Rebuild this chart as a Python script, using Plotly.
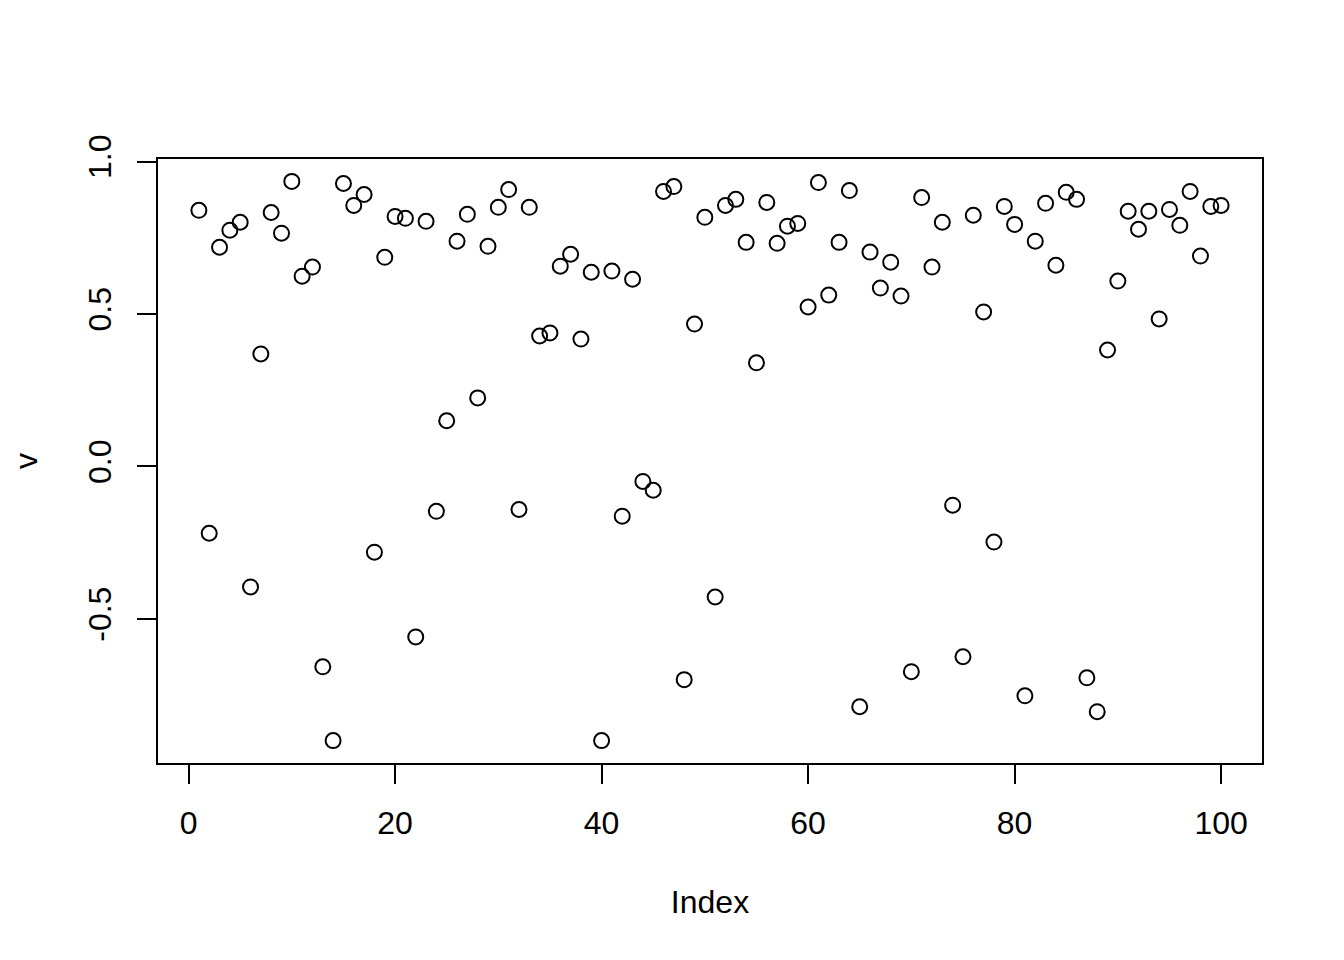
import plotly.graph_objects as go

# index 1..100 and the plotted values
index = list(range(1, 101))
v = [
    0.840, -0.219, 0.719, 0.775, 0.801, -0.395, 0.369, 0.833, 0.765, 0.935,
    0.624, 0.654, -0.657, -0.899, 0.928, 0.856, 0.892, -0.281, 0.686, 0.820,
    0.814, -0.559, 0.804, -0.147, 0.150, 0.739, 0.827, 0.225, 0.722, 0.850,
    0.908, -0.141, 0.850, 0.428, 0.438, 0.657, 0.696, 0.418, 0.637, -0.899,
    0.641, -0.163, 0.614, -0.049, -0.078, 0.902, 0.918, -0.699, 0.467, 0.817,
    -0.428, 0.856, 0.876, 0.735, 0.340, 0.866, 0.732, 0.788, 0.797, 0.523,
    0.931, 0.562, 0.735, 0.905, -0.788, 0.703, 0.585, 0.670, 0.559, -0.673,
    0.882, 0.654, 0.801, -0.127, -0.624, 0.824, 0.507, -0.248, 0.853, 0.794,
    -0.752, 0.739, 0.863, 0.660, 0.899, 0.876, -0.693, -0.804, 0.382, 0.608,
    0.837, 0.778, 0.837, 0.484, 0.843, 0.791, 0.902, 0.690, 0.853, 0.856,
]

x_ticks = [0, 20, 40, 60, 80, 100]
y_ticks = [-0.5, 0.0, 0.5, 1.0]
y_tick_labels = ["-0.5", "0.0", "0.5", "1.0"]

FONT = "Liberation Sans, Arial, Helvetica, sans-serif"

fig = go.Figure(go.Scatter(
    x=index,
    y=v,
    mode="markers",
    marker=dict(symbol="circle-open", size=15, color="black",
                line=dict(color="black", width=2)),
    hoverinfo="x+y",
))

axis_common = dict(
    showline=True, mirror=True, linecolor="black", linewidth=2,
    showgrid=False, zeroline=False,
    ticks="outside", ticklen=19, tickwidth=2, tickcolor="black",
    tickfont=dict(family=FONT, size=32, color="black"),
)

# page body adds a small offset, so the margins are trimmed on left/top
fig.update_layout(
    width=1344, height=960,
    margin=dict(l=150, r=90, t=151, b=205),
    paper_bgcolor="white", plot_bgcolor="white",
    showlegend=False,
    font=dict(family=FONT, size=32, color="black"),
    xaxis=dict(
        range=[-2.96, 103.96], tickvals=x_ticks,
        ticklabelstandoff=12,
        title=dict(text="Index", font=dict(size=32), standoff=50),
        **axis_common,
    ),
    yaxis=dict(
        range=[-0.9724, 1.0084], tickvals=y_ticks, ticktext=y_tick_labels,
        tickangle=-90, ticklabelstandoff=13,
        title=dict(text="v", font=dict(size=32), standoff=37),
        **axis_common,
    ),
)

fig.write_html("out.html")
